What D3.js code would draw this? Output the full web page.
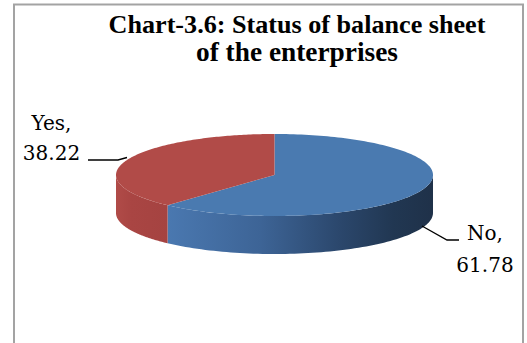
<!DOCTYPE html>
<html>
<head>
<meta charset="utf-8">
<script src="https://cdn.jsdelivr.net/npm/d3@7"></script>
<style>
  html, body { margin: 0; padding: 0; background: #fff; }
  svg { display: block; }
  text { fill: #000; }
  .title { font-family: "Liberation Serif", "Times New Roman", serif; font-weight: bold; }
  .label { font-family: "DejaVu Serif", "Liberation Serif", serif; }
</style>
</head>
<body>
<script>
// Share of enterprises maintaining a balance sheet
const categories = ["No", "Yes"];
const values = [61.78, 38.22];
const titleLines = ["Chart-3.6: Status of balance sheet", "of the enterprises"];

const W = 527, H = 343;
const svg = d3.select("body").append("svg").attr("width", W).attr("height", H);

// chart frame
svg.append("rect")
  .attr("x", 14).attr("y", 4.5).attr("width", 509).attr("height", 360)
  .attr("fill", "#fff").attr("stroke", "#a3a3a3").attr("stroke-width", 2);

// fit a text element's font size so it spans the given width
function fitText(sel, width) {
  const node = sel.node();
  const fs = parseFloat(sel.attr("font-size"));
  const w = node.getComputedTextLength();
  sel.attr("font-size", (fs * width / w).toFixed(2));
  return sel;
}

// title
const titleW = [377, 202];
const titleY = [33, 61];
titleLines.forEach((t, i) => {
  const s = svg.append("text")
    .attr("class", "title")
    .attr("x", 297).attr("y", titleY[i])
    .attr("text-anchor", "middle")
    .attr("font-size", 20)
    .text(t);
  fitText(s, titleW[i]);
});

// 3D pie geometry
const cx = 274.5, cy = 175, rx = 158.5, ry = 41, depth = 38;
const colors = { No: "#4a7ab0", Yes: "#b14b48" };

const pie = d3.pie().sort(null).value(d => d.value);
const arcs = pie(categories.map((c, i) => ({ name: c, value: values[i] })));

// point on the ellipse for an angle measured clockwise from 12 o'clock
const px = a => cx + rx * Math.sin(a);
const py = (a, dy = 0) => cy - ry * Math.cos(a) + dy;

function ellipseArcPath(a0, a1, dy, steps) {
  const pts = [];
  for (let k = 0; k <= steps; k++) {
    const a = a0 + (a1 - a0) * k / steps;
    pts.push([px(a), py(a, dy)]);
  }
  return pts;
}

const split = arcs[0].endAngle;
const defs = svg.append("defs");
const gBlue = defs.append("linearGradient").attr("id", "sideNo")
  .attr("gradientUnits", "userSpaceOnUse")
  .attr("x1", px(split)).attr("x2", cx + rx).attr("y1", 0).attr("y2", 0);
[[0, "#4a78b0"], [0.35, "#3d6496"], [0.65, "#2b476c"], [0.85, "#213752"], [1, "#1f3149"]]
  .forEach(([o, c]) => gBlue.append("stop").attr("offset", o).attr("stop-color", c));
const gRed = defs.append("linearGradient").attr("id", "sideYes")
  .attr("gradientUnits", "userSpaceOnUse")
  .attr("x1", cx - rx).attr("x2", px(split)).attr("y1", 0).attr("y2", 0);
[[0, "#b04b48"], [0.3, "#a94543"], [1, "#a54341"]]
  .forEach(([o, c]) => gRed.append("stop").attr("offset", o).attr("stop-color", c));

const line = d3.line();

// side walls: only the front half (angles between 90° and 270°) is visible
const front0 = Math.PI / 2, front1 = Math.PI * 1.5;
arcs.forEach(d => {
  const a0 = Math.max(d.startAngle, front0), a1 = Math.min(d.endAngle, front1);
  if (a1 <= a0) return;
  const top = ellipseArcPath(a0, a1, 0, 80);
  const bot = ellipseArcPath(a1, a0, depth, 80);
  svg.append("path")
    .attr("d", line(top.concat(bot)) + "Z")
    .attr("fill", d.data.name === "No" ? "url(#sideNo)" : "url(#sideYes)");
});

// top faces
arcs.forEach(d => {
  const pts = [[cx, cy]].concat(ellipseArcPath(d.startAngle, d.endAngle, 0, 160));
  svg.append("path")
    .attr("d", line(pts) + "Z")
    .attr("fill", colors[d.data.name]);
});

// data labels with leader lines
const labelSpecs = {
  Yes: { x: 51.5, y: [130, 160], line: [[88, 160], [118, 160], [127, 157.5]] },
  No: { x: 485, y: [240, 272], line: [[422, 226], [447, 240], [459, 240]] }
};
arcs.forEach(d => {
  const s = labelSpecs[d.data.name];
  svg.append("path")
    .attr("d", line(s.line))
    .attr("fill", "none").attr("stroke", "#000").attr("stroke-width", 1.3);
  const t = svg.append("text").attr("class", "label")
    .attr("text-anchor", "middle").attr("font-size", 20);
  t.append("tspan").attr("x", s.x).attr("y", s.y[0]).text(d.data.name + ",");
  t.append("tspan").attr("x", s.x).attr("y", s.y[1]).text(d3.format(".2f")(d.data.value));
});
</script>
</body>
</html>
